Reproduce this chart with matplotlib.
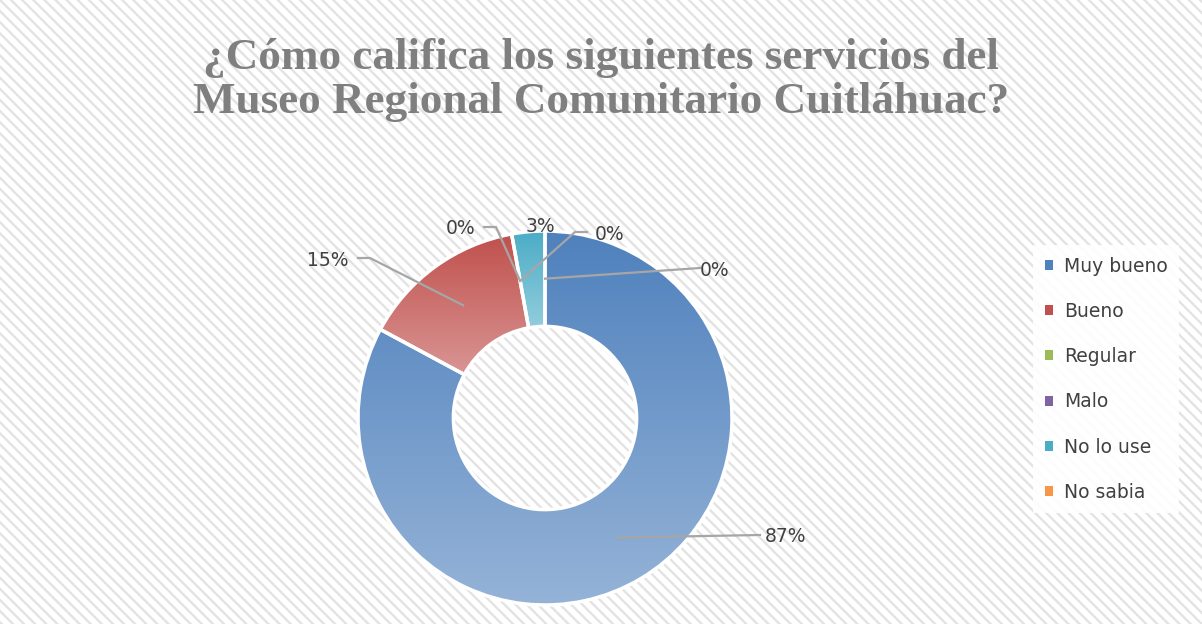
import numpy as np
import matplotlib.pyplot as plt
from matplotlib.colors import LinearSegmentedColormap
from matplotlib.patches import Rectangle, Patch

# ..................................Data.........................................
categories = ["Muy bueno", "Bueno", "Regular", "Malo", "No lo use", "No sabia"]
values = [87, 15, 0, 0, 3, 0]
labels = ["87%", "15%", "0%", "0%", "3%", "0%"]

title = "¿Cómo califica los siguientes servicios del\nMuseo Regional Comunitario Cuitláhuac?"

# top (dark) / bottom (light) colours of each slice gradient
dark = ["#4F81BD", "#C0504D", "#9BBB59", "#8064A2", "#4BACC6", "#F79646"]
light = ["#95B3D7", "#D99694", "#C3D69B", "#B3A2C7", "#93CDDD", "#FAC090"]

# label text positions (pixel coords of the 1202x624 canvas), elbow points
label_pos = [(785, 537), (328, 261), (461, 228), (610, 234), (540, 226), (715, 270)]
elbow_pos = [(760, 535), (370, 258), (496, 227), (575, 232), None, (700, 268)]

W, H = 1202, 624
fig = plt.figure(figsize=(W / 100, H / 100), dpi=100)
fig.patch.set_facecolor("white")

plt.rcParams["hatch.color"] = "#E3E3E3"
plt.rcParams["hatch.linewidth"] = 1.7
fig.patches.append(Rectangle((0, 0), 1, 1, transform=fig.transFigure,
                             facecolor="white", edgecolor="#E3E3E3",
                             hatch="\\\\\\", linewidth=0, zorder=-5))

ax = fig.add_axes([0, 0, 1, 1])
ax.set_zorder(1)
ax.set_axis_off()

cx, cy = 545, H - 418
R = 187
ring = 0.51

wedges, _ = ax.pie(values, startangle=90, counterclock=False, radius=R,
                   center=(cx, cy), colors=dark,
                   wedgeprops=dict(width=R * ring, edgecolor="white", linewidth=2.5))

# gradient fill, clipped by each wedge
for w, c0, c1, v in zip(wedges, dark, light, values):
    if v == 0:
        continue
    ext = w.get_path().get_extents()
    cmap = LinearSegmentedColormap.from_list("g", [c1, c0])
    grad = np.linspace(0, 1, 256).reshape(-1, 1)
    im = ax.imshow(grad, cmap=cmap, origin="lower", aspect="auto",
                   extent=[ext.x0, ext.x1, ext.y0, ext.y1], zorder=1)
    im.set_clip_path(w)
    w.set_facecolor("none")
    w.set_zorder(2)

ax.set_xlim(0, W)
ax.set_ylim(0, H)
ax.set_aspect("equal")

# data labels with leader lines
total = sum(values)
start = 90
rmid = R * (1 - ring / 2)
for v, lab, (tx, ty), elbow in zip(values, labels, label_pos, elbow_pos):
    span = 360 * v / total
    mid = np.deg2rad(start - span / 2)
    start -= span
    ax.text(tx, H - ty, lab, ha="center", va="center", fontsize=13.5,
            color="#404040", family="DejaVu Sans", zorder=4)
    if elbow is None:
        continue
    px, py = cx + rmid * np.cos(mid), cy + rmid * np.sin(mid)
    ex, ey = elbow
    if abs(ex - tx) > 30:
        hx = ex - 12 if tx < ex else ex + 12
    else:
        hx = ex
    ax.plot([px, ex, hx], [py, H - ey, H - ey], color="#A6A6A6", lw=1.6, zorder=3)

fig.text(0.5, 1 - 80 / H, title, ha="center", va="center", fontsize=32.5,
         fontweight="bold", color="#7F7F7F", family="Liberation Serif", linespacing=1.12)

handles = [Patch(facecolor=c, edgecolor="none") for c in dark]
leg = fig.legend(handles, categories, loc="upper left", bbox_to_anchor=(1024 / W, 1 - 236 / H),
                 frameon=True, fontsize=13.5, labelcolor="#404040", handlelength=0.45,
                 handleheight=0.45, handletextpad=0.6, labelspacing=1.4,
                 borderpad=0.6, fancybox=False)
leg.get_frame().set_facecolor("white")
leg.get_frame().set_edgecolor("none")
leg.get_frame().set_alpha(0.9)

fig.savefig("out.png", dpi=100)
